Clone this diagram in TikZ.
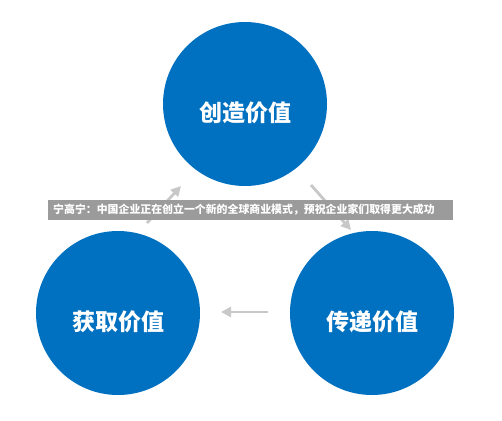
\documentclass[tikz,border=0pt]{standalone}
\usepackage{fontspec}
\newfontfamily\cjk{Noto Sans CJK SC}
\usetikzlibrary{arrows.meta}

\definecolor{valblue}{RGB}{0,112,192}
\definecolor{bargray}{RGB}{155,155,155}
\definecolor{arrowgray}{RGB}{200,200,200}

\begin{document}
\begin{tikzpicture}[x=1pt,y=-1pt,
    val/.style={circle, fill=valblue, minimum size=164pt, inner sep=0pt},
    valtext/.style={text=white, font=\cjk\bfseries\fontsize{23}{23}\selectfont},
    flow/.style={arrowgray, line width=2.8pt, -{Triangle[length=10pt,width=10pt]}},
    bar/.style={fill=bargray, text=white, inner xsep=5pt, inner ysep=0pt,
        text width=395pt, minimum height=20pt, align=left,
        font=\cjk\bfseries\fontsize{10.9}{12}\selectfont}]
    \useasboundingbox (0,0) rectangle (502,420);

    % the three values
    \node[val] (create) at (245,104) {};
    \node[val] (obtain) at (118,313) {};
    \node[val] (deliver) at (372,313) {};
    \node[valtext] (createtxt) at ([yshift=-9pt]create.center) {创造价值};
    \node[valtext] (obtaintxt) at ([yshift=-9pt]obtain.center) {获取价值};
    \node[valtext] (delivertxt) at ([yshift=-9pt]deliver.center) {传递价值};

    % arrow ends between the circles
    \coordinate (a1) at (147,223);
    \coordinate (a2) at (181,186);
    \coordinate (b1) at (311,185);
    \coordinate (b2) at (351,230);
    \coordinate (c1) at (268,312);
    \coordinate (c2) at (221,312);

    \draw[flow] (a1) -- (a2);
    \draw[flow] (b1) -- (b2);
    \draw[flow] (c1) -- (c2);

    \node[bar, anchor=west] (title) at (48,209.5) {宁高宁：中国企业正在创立一个新的全球商业模式，预祝企业家们取得更大成功};
\end{tikzpicture}
\end{document}
